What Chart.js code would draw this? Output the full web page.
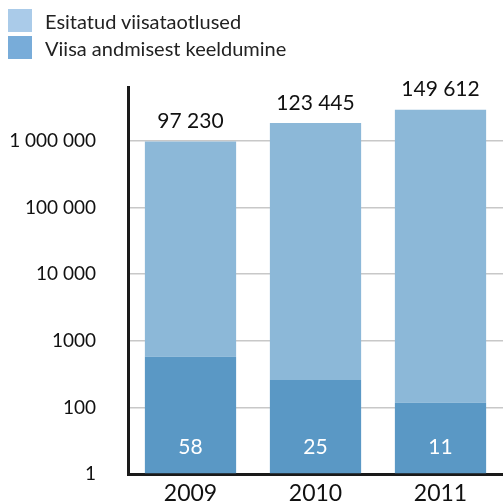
<!DOCTYPE html>
<html>
<head>
<meta charset="utf-8">
<script src="https://cdn.jsdelivr.net/npm/chart.js@4"></script>
<style>
html,body{margin:0;padding:0;background:#fff;}
#wrap{position:relative;width:503px;height:503px;overflow:hidden;}
#legend{position:absolute;left:8px;top:9px;font-family:Lato, sans-serif;font-size:20px;color:#222;}
.item{display:flex;align-items:center;height:23px;margin-bottom:4px;}
.box{width:24px;height:23px;margin-right:13px;}
</style>
</head>
<body>
<div id="wrap">
  <canvas id="myChart" width="503" height="503"></canvas>
  <div id="legend"></div>
</div>
<script>
const years = ['2009', '2010', '2011'];
const applications = [97230, 123445, 149612]; // printed above the bars
const refusals = [58, 25, 11];                 // printed inside the dark bars
// bar heights in axis steps (the axis is drawn evenly spaced)
const totalHeight = [4.99, 5.27, 5.47];
const refusalHeight = [1.76, 1.41, 1.07];
const tickLabels = ['1', '100', '1000', '10 000', '100 000', '1 000 000'];
const seriesNames = ['Esitatud viisataotlused', 'Viisa andmisest keeldumine'];

const fmt = n => n.toString().replace(/\B(?=(\d{3})+(?!\d))/g, ' ');

// legend (light first, dark second)
const swatches = ['#aacbe9', '#78acd9'];
const legend = document.getElementById('legend');
seriesNames.forEach((name, i) => {
    const item = document.createElement('div');
    item.className = 'item';
    item.innerHTML = '<span class="box" style="background:' + swatches[i] + '"></span><span>' + name + '</span>';
    legend.appendChild(item);
});

const barLabels = {
    id: 'barLabels',
    afterDatasetsDraw(chart) {
        const ctx = chart.ctx;
        const base = chart.scales.y.getPixelForValue(0);
        const tops = chart.getDatasetMeta(1).data;
        const bottoms = chart.getDatasetMeta(0).data;
        ctx.save();
        ctx.textAlign = 'center';
        ctx.textBaseline = 'middle';
        ctx.font = '21px Lato';
        ctx.fillStyle = '#111';
        tops.forEach((bar, i) => {
            ctx.fillText(fmt(applications[i]), bar.x, bar.y - 20);
        });
        ctx.fillStyle = '#fff';
        bottoms.forEach((bar, i) => {
            ctx.fillText(refusals[i], bar.x, base - 27);
        });
        ctx.restore();
    }
};

const data = {
    labels: years,
    datasets: [{
        label: seriesNames[1],
        data: refusalHeight,
        backgroundColor: '#5a98c5',
        borderWidth: 0
    }, {
        label: seriesNames[0],
        data: totalHeight.map((t, i) => t - refusalHeight[i]),
        backgroundColor: '#8cb8d8',
        borderWidth: 0
    }]
};

const config = {
    type: 'bar',
    data: data,
    options: {
        responsive: false,
        animation: false,
        layout: { padding: { top: 87, right: 0, bottom: 0, left: 0 } },
        datasets: { bar: { categoryPercentage: 1, barPercentage: 0.73 } },
        plugins: {
            legend: { display: false },
            tooltip: { enabled: false }
        },
        scales: {
            x: {
                stacked: true,
                grid: { display: false, drawTicks: false },
                border: { color: '#1a1a1a', width: 3 },
                afterFit: (scale) => { scale.height = 29; },
                ticks: { color: '#111', padding: 7, font: { family: 'Lato', size: 23, lineHeight: 1.1 } }
            },
            y: {
                stacked: true,
                min: 0,
                max: 5.81,
                afterBuildTicks: (scale) => {
                    scale.ticks = tickLabels.map((t, i) => ({ value: i }));
                },
                afterFit: (scale) => {
                    scale.width = 128;
                    // the big tick padding should only push labels sideways
                    scale.paddingTop = 0;
                    scale.paddingBottom = 0;
                },
                grid: { color: '#c8c8c8', lineWidth: 1.5, drawTicks: false },
                border: { color: '#1a1a1a', width: 3 },
                ticks: {
                    color: '#111',
                    padding: 32,
                    font: { family: 'Lato', size: 19 },
                    callback: (value) => tickLabels[value]
                }
            }
        }
    },
    plugins: [barLabels]
};

const myChart = new Chart(document.getElementById('myChart'), config);
</script>
</body>
</html>
